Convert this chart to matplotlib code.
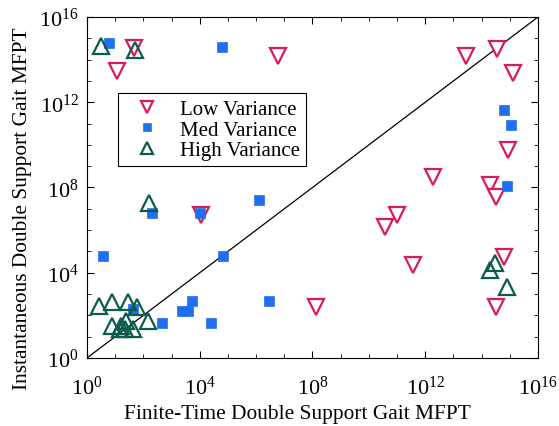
import matplotlib
matplotlib.use("Agg")
import matplotlib.pyplot as plt
import numpy as np
from matplotlib.ticker import FixedLocator, NullFormatter

# values, as log10 exponents (x = finite-time, y = instantaneous)
low_x = [1.06, 1.67, 4.03, 6.78, 8.12, 10.58, 11.0, 11.57, 12.28, 13.44, 14.55,
         15.1, 14.94, 14.29, 14.5, 14.79, 14.5]
low_y = [13.47, 14.54, 6.71, 14.15, 2.41, 6.16, 6.71, 4.37, 8.48, 14.15, 14.51,
         13.38, 9.78, 8.14, 7.57, 4.73, 2.41]

med_x = [0.79, 4.80, 14.8, 15.04, 14.89, 0.58, 2.29, 4.02, 6.10, 4.81,
         1.64, 2.65, 3.36, 3.57, 3.71, 4.40, 6.45]
med_y = [14.77, 14.59, 11.66, 10.94, 8.06, 4.80, 6.81, 6.81, 7.43, 4.80,
         2.30, 1.63, 2.19, 2.19, 2.66, 1.63, 2.66]

high_x = [0.49, 1.70, 2.20, 0.41, 0.90, 1.45, 1.78, 0.89, 1.22, 1.39, 1.34,
          1.63, 1.16, 2.16, 14.29, 14.49, 14.90]
high_y = [14.63, 14.47, 7.28, 2.43, 2.64, 2.64, 2.38, 1.49, 1.49, 1.75, 1.36,
          1.36, 1.36, 1.75, 4.13, 4.44, 3.35]

RED = "#d81b5a"
BLUE = "#1f6ff0"
GREEN = "#0b5c4c"

plt.rcParams["font.family"] = ["Liberation Serif", "DejaVu Serif"]
plt.rcParams["mathtext.fontset"] = "stix"

fig = plt.figure(figsize=(5.59, 4.27), dpi=100)
ax = fig.add_axes([0.1556, 0.1593, 0.8068, 0.7985])

ax.plot([1, 1e16], [1, 1e16], color="black", linewidth=0.9, zorder=1)

ax.plot(10 ** np.array(low_x), 10 ** np.array(low_y), "v", linestyle="none",
        markersize=11.5, markerfacecolor="white", markeredgecolor=RED,
        markeredgewidth=1.6, label="Low Variance", zorder=3)
ax.plot(10 ** np.array(med_x), 10 ** np.array(med_y), "s", linestyle="none",
        markersize=7.2, markerfacecolor=BLUE, markeredgecolor=BLUE,
        markeredgewidth=0.5, label="Med Variance", zorder=4)
ax.plot(10 ** np.array(high_x), 10 ** np.array(high_y), "^", linestyle="none",
        markersize=11.5, markerfacecolor="none", markeredgecolor=GREEN,
        markeredgewidth=1.6, label="High Variance", zorder=5)

ax.set_xscale("log")
ax.set_yscale("log")
ax.set_xlim(1, 1e16)
ax.set_ylim(1, 1e16)

for axis in (ax.xaxis, ax.yaxis):
    axis.set_major_locator(FixedLocator([1, 1e4, 1e8, 1e12, 1e16]))
    axis.set_minor_locator(FixedLocator([10.0 ** k for k in range(17)]))
    axis.set_minor_formatter(NullFormatter())

ax.tick_params(which="both", direction="in", top=True, right=True, labelsize=16)
ax.tick_params(which="major", length=5, width=0.8)
ax.tick_params(which="minor", length=3, width=0.6)
ax.tick_params(axis="x", which="major", pad=13)
ax.tick_params(axis="y", which="major", pad=6)

ax.set_xlabel("Finite-Time Double Support Gait MFPT", fontsize=15.4)
ax.set_ylabel("Instantaneous Double Support Gait MFPT", fontsize=15.4)
ax.xaxis.set_label_coords(0.466, -0.134)
ax.yaxis.set_label_coords(-0.121, 0.44)

leg = ax.legend(loc="upper left", bbox_to_anchor=(0.068, 0.777), fontsize=15,
                markerscale=0.8, fancybox=False, edgecolor="black",
                framealpha=1, handletextpad=0.5, borderpad=0.3,
                labelspacing=0.05, borderaxespad=0, handlelength=2.2)
leg.get_frame().set_linewidth(0.8)

fig.savefig("out.png", dpi=100)
